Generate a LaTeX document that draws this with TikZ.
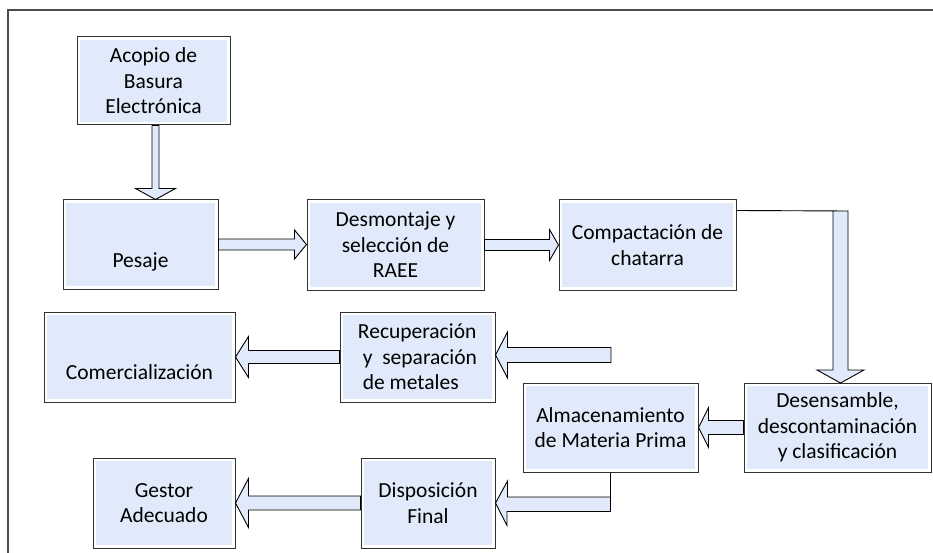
\documentclass[tikz,border=0pt]{standalone}
\usepackage{fontspec}
\setmainfont{Carlito}
\usepackage{xcolor}
\usetikzlibrary{calc}
\definecolor{cajaazul}{RGB}{224,234,250}
\definecolor{borde}{RGB}{50,50,50}

\newcommand{\flecha}[5]{%
  \coordinate (hb) at ($(#2)!#5!(#1)$);
  \filldraw [barrow] ($(#1)!#3!90:(#2)$) -- ($(hb)!#3!-90:(#1)$) -- ($(hb)!#4!-90:(#1)$) -- (#2)
    -- ($(hb)!#4!90:(#1)$) -- ($(hb)!#3!90:(#1)$) -- ($(#1)!#3!-90:(#2)$) -- cycle;}

\begin{document}
\begin{tikzpicture}[x = 1pt, y = -1pt, line join = miter]
	\tikzstyle{caja} = [rectangle, draw = borde, fill = white, line width = 1pt, inner sep = 0pt, align = center,
	  font = \fontsize{21.5}{25.5}\selectfont,
	  path picture = {\fill [cajaazul] ($(path picture bounding box.south west)+(3pt,3pt)$) rectangle ($(path picture bounding box.north east)+(-3pt,-3pt)$);}]
	\tikzstyle{barrow} = [draw = black, fill = cajaazul, line width = 0.9pt]
	\tikzstyle{marco} = [draw = black!70, line width = 1.6pt]
	\useasboundingbox (0,0) rectangle (933,553);
	\draw [marco] (933,10) -- (8,10) -- (8,553);
	\node [caja, minimum width = 153pt, minimum height = 88pt] (A) at (153.5,81) {Acopio de\\Basura\\Electrónica};
	\node [caja, minimum width = 155pt, minimum height = 89pt] (P) at (140.5,244.5) {\rule{0pt}{49pt}Pesaje};
	\node [caja, minimum width = 177pt, minimum height = 90pt] (D) at (395.5,245) {Desmontaje y\\selección de\\RAEE};
	\node [caja, minimum width = 177pt, minimum height = 90pt] (C) at (647.5,245) {Compactación de\\chatarra};
	\node [caja, minimum width = 155pt, minimum height = 90pt, align = left] (R) at (417.5,357) {Recuperación\\\ y\ \ separación\\\ de metales};
	\node [caja, minimum width = 191pt, minimum height = 90pt] (Co) at (139.5,357) {\rule{0pt}{45pt}Comercialización};
	\node [caja, minimum width = 175pt, minimum height = 89pt] (Al) at (610.5,427.5) {Almacenamiento\\de Materia Prima};
	\node [caja, minimum width = 187pt, minimum height = 89pt] (Ds) at (837.5,427.5) {Desensamble,\\descontaminación\\y clasificación};
	\node [caja, minimum width = 134pt, minimum height = 90pt] (Dp) at (428,503) {Disposición\\Final};
	\node [caja, minimum width = 142pt, minimum height = 90pt] (G) at (164,503) {Gestor\\Adecuado};
	\coordinate (a1) at ($(A.south)+(2,0)$);
	\coordinate (a2) at (a1 |- P.north);
	\coordinate (a3) at (P.east -| D.west);
	\coordinate (a4) at (D.east -| C.west);
	\coordinate (r0) at (611,355);
	\coordinate (r1) at (r0 -| R.east);
	\coordinate (c1) at (R.west -| Co.east);
	\coordinate (d1) at (Ds.west -| Al.east);
	\coordinate (g1) at (Dp.west -| G.east);
	\coordinate (t1) at (840.5,383);
	\flecha{a1}{a2}{3.5pt}{20pt}{11pt}
	\flecha{P.east}{a3}{5.5pt}{14.5pt}{12pt}
	\flecha{D.east}{a4}{5.5pt}{15.5pt}{9pt}
	\flecha{r0}{r1}{7.5pt}{23pt}{12pt}
	\flecha{R.west}{c1}{6.5pt}{20.5pt}{13pt}
	\flecha{Ds.west}{d1}{7pt}{20pt}{10pt}
	\flecha{Dp.west}{g1}{7pt}{24.5pt}{13pt}
	\filldraw [barrow] ($(C.north east)+(0,11)$) -- (848,211) -- (848,370) -- (864,370) -- (t1) -- (817,370) -- (833,370) -- (833,211);
	\filldraw [barrow] (Al.south) -- ++(0,39) -- ++(-103.5,0) -- ++(0,14) -- (Dp.east) -- ++(12,-22) -- ++(0,16) -- ++(103.5,0);
\end{tikzpicture}
\end{document}
